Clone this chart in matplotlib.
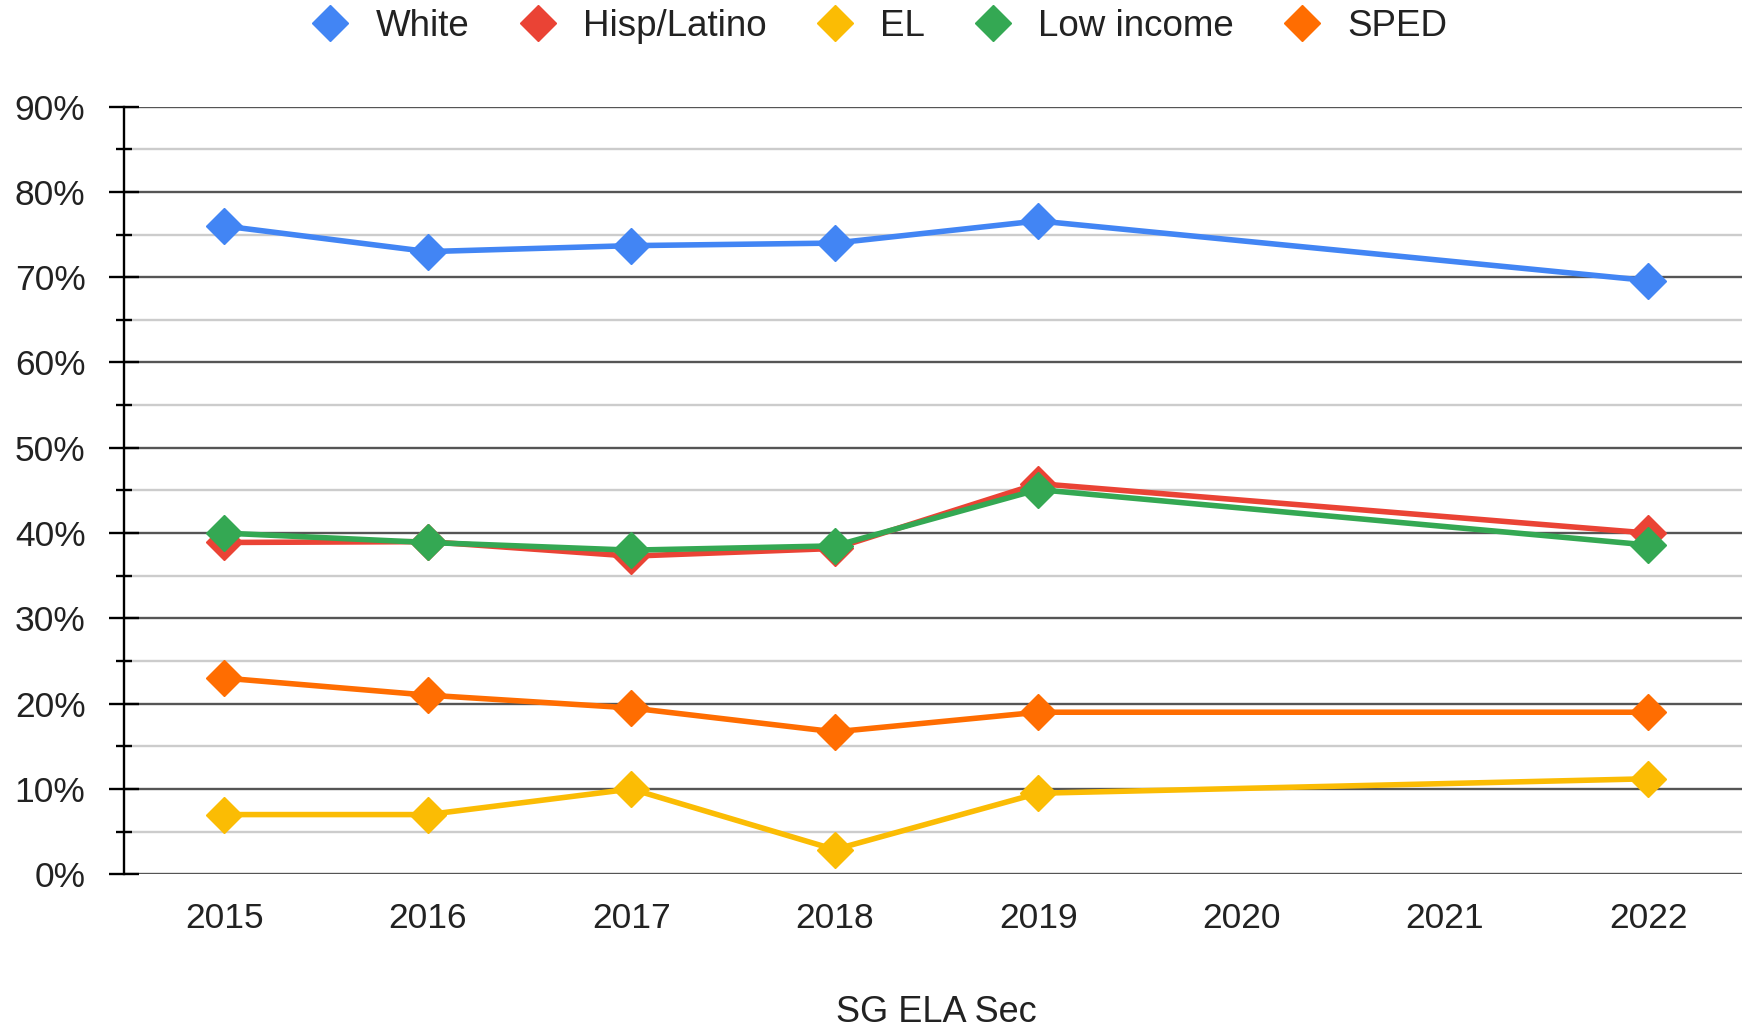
import matplotlib.pyplot as plt
from matplotlib.ticker import MultipleLocator, FuncFormatter

plt.rcParams['font.family'] = ['Liberation Sans', 'DejaVu Sans']

# data (percent)
years = [2015, 2016, 2017, 2018, 2019, 2022]
white = [76.0, 73.0, 73.7, 74.0, 76.6, 69.6]
hisp_latino = [38.9, 39.0, 37.3, 38.2, 45.8, 40.0]
el = [7.0, 7.0, 10.0, 2.9, 9.5, 11.2]
low_income = [40.0, 38.9, 38.0, 38.5, 45.1, 38.6]
sped = [23.0, 21.0, 19.5, 16.7, 19.0, 19.0]

series = [
    ('White', white, '#4285F4'),
    ('Hisp/Latino', hisp_latino, '#EA4335'),
    ('EL', el, '#FBBC04'),
    ('Low income', low_income, '#34A853'),
    ('SPED', sped, '#FF6D01'),
]

fig = plt.figure(figsize=(17.42, 10.31), dpi=100)
ax = fig.add_axes([0.0714, 0.152, 1 - 0.0714, 0.8966 - 0.152])

handles = []
for name, vals, col in series:
    ax.plot(years, vals, color=col, lw=4, marker='D', ms=18,
            mec=col, mfc=col, label=name, zorder=3)
    h, = ax.plot([], [], color=col, ls='none', marker='D', ms=18, label=name)
    handles.append(h)

ax.set_xlim(2014.508, 2022.46)
ax.set_ylim(0, 90)
ax.set_xticks(range(2015, 2023))
ax.yaxis.set_major_locator(MultipleLocator(10))
ax.yaxis.set_minor_locator(MultipleLocator(5))
ax.yaxis.set_major_formatter(FuncFormatter(lambda v, p: f'{int(v)}%'))

ax.grid(axis='y', which='major', color='#555555', lw=1.7, zorder=1)
ax.grid(axis='y', which='minor', color='#cccccc', lw=1.7, zorder=1)
ax.set_axisbelow(True)

for s in ['top', 'right', 'bottom']:
    ax.spines[s].set_visible(False)
ax.spines['left'].set_color('black')
ax.spines['left'].set_linewidth(1.7)

ax.tick_params(axis='x', length=0, pad=20, labelsize=25.5, labelcolor='#222222')
ax.tick_params(axis='y', which='major', direction='inout', length=22, width=1.7,
               pad=17, labelsize=25.5, labelcolor='#222222')
ax.tick_params(axis='y', which='minor', direction='inout', length=11, width=1.7)

fig.legend(handles=handles, loc='center', bbox_to_anchor=(0.506, 0.974), ncol=5,
           frameon=False, fontsize=26.5, handlelength=0.8, handletextpad=0.83,
           columnspacing=1.45, labelcolor='#222222')

fig.text(0.5375, 0.018, 'SG ELA Sec', ha='center', va='center', fontsize=26,
         color='#222222')

fig.savefig('out.png', dpi=100)
